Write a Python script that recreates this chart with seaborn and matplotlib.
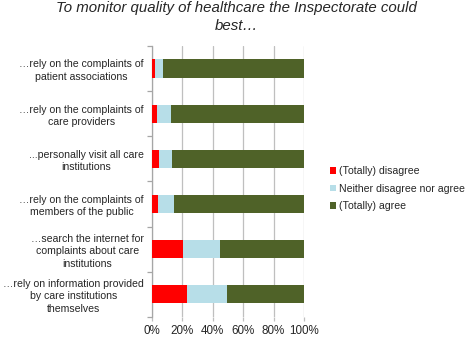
import numpy as np
import pandas as pd
import matplotlib
matplotlib.use("Agg")
import matplotlib.pyplot as plt
import seaborn as sns
from matplotlib.patches import Patch
from matplotlib.ticker import PercentFormatter

# ==============================================================================
# DATA (percent of respondents)
# ==============================================================================
statements = [
    "…rely on the complaints of\npatient associations",
    "…rely on the complaints of\ncare providers",
    "...personally visit all care\ninstitutions",
    "…rely on the complaints of\nmembers of the public",
    "…search the internet for\ncomplaints about care\ninstitutions",
    "…rely on information provided\nby care institutions\nthemselves",
]
disagree = [1.8, 3.5, 4.4, 3.7, 20.3, 23.1]
neutral = [5.2, 9.3, 8.6, 11.1, 24.4, 26.5]
agree = [93.0, 87.2, 87.0, 85.2, 55.3, 50.4]

series_names = ["(Totally) disagree", "Neither disagree nor agree", "(Totally) agree"]
series_colors = ["#FF0000", "#B7DEE8", "#4F6228"]
title = "To monitor quality of healthcare the Inspectorate could\nbest…"

GRID_GRAY = "#BFBFBF"


def main():
    sns.set_theme(style="white")
    plt.rcParams["font.family"] = ["Liberation Sans", "DejaVu Sans"]

    df = pd.DataFrame(
        {
            "statement": statements,
            "disagree": disagree,
            "neutral": neutral,
            "agree": agree,
        }
    )
    # cumulative ends so the stacked segments can be layered back to front
    df["end_disagree"] = df["disagree"]
    df["end_neutral"] = df["disagree"] + df["neutral"]
    df["end_agree"] = df["end_neutral"] + df["agree"]

    fig = plt.figure(figsize=(4.72, 3.4), dpi=100)
    ax = fig.add_axes([0.322, 0.068, 0.322, 0.797])

    for col, color in zip(
        ["end_agree", "end_neutral", "end_disagree"], series_colors[::-1]
    ):
        sns.barplot(
            data=df,
            x=col,
            y="statement",
            orient="h",
            color=color,
            saturation=1,
            width=0.4,
            linewidth=0,
            ax=ax,
            zorder=3,
        )

    ax.set_xlim(0, 100)
    ax.set_ylim(len(statements) - 0.5, -0.5)
    ax.xaxis.set_major_formatter(PercentFormatter(decimals=0))
    ax.set_xticks(np.arange(0, 101, 20))
    ax.set_xlabel("")
    ax.set_ylabel("")

    ax.grid(axis="x", color=GRID_GRAY, linewidth=0.9, zorder=0)
    ax.set_axisbelow(True)

    for side in ["top", "right", "bottom"]:
        ax.spines[side].set_visible(False)
    ax.spines["left"].set_color("#A6A6A6")
    ax.spines["left"].set_linewidth(0.9)

    # y labels between category boundary ticks
    ax.set_yticks(np.arange(len(statements)))
    ax.set_yticklabels(
        statements, fontsize=7.6, multialignment="center", linespacing=1.3
    )
    ax.set_yticks(np.arange(len(statements) + 1) - 0.5, minor=True)
    ax.tick_params(axis="y", which="major", length=0, pad=6)
    ax.tick_params(
        axis="y", which="minor", left=True, length=3.5, color="#A6A6A6", width=0.9
    )
    ax.tick_params(
        axis="x", which="major", bottom=True, length=3, color=GRID_GRAY,
        labelsize=8.4, pad=3, width=0.9,
    )

    fig.suptitle(title, fontsize=10.8, style="italic", y=0.997, linespacing=1.35)

    handles = [Patch(facecolor=c, edgecolor="none") for c in series_colors]
    fig.legend(
        handles,
        series_names,
        loc="center left",
        bbox_to_anchor=(0.69, 0.445),
        frameon=False,
        fontsize=7.6,
        handlelength=0.55,
        handleheight=0.55,
        handletextpad=0.35,
        labelspacing=0.7,
        borderaxespad=0,
    )

    plt.savefig("out.png", dpi=100)
    plt.close()


if __name__ == "__main__":
    main()
